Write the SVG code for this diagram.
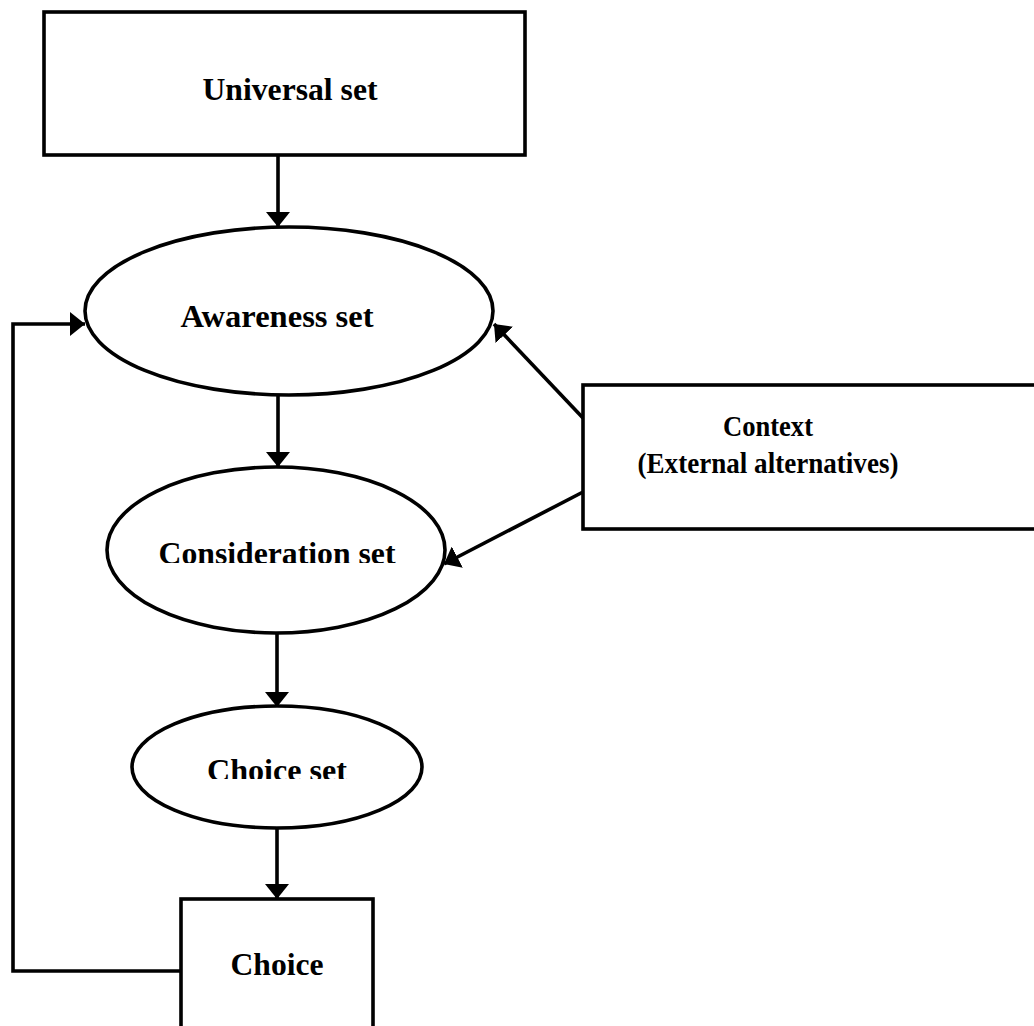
<svg xmlns="http://www.w3.org/2000/svg" width="1034" height="1026" viewBox="0 0 1034 1026">
<style>
.shape{fill:#fff;stroke:#000;stroke-width:3.6}
.lbl{font-family:"Liberation Serif","Times New Roman",serif;font-weight:bold;font-size:32px;fill:#000;text-anchor:middle}
.sm{font-size:30px}
.con{fill:none;stroke:#000;stroke-width:3.6}
</style>
<defs>
<marker id="ah" markerUnits="userSpaceOnUse" markerWidth="16" markerHeight="24" viewBox="0 0 16 24" refX="15" refY="12" orient="auto">
<path d="M0,0 L15,12 L0,24 z" fill="#000"/>
</marker>
<clipPath id="clipCons"><rect x="0" y="500" width="1034" height="63"/></clipPath>
<clipPath id="clipChs"><rect x="0" y="720" width="1034" height="59"/></clipPath>
</defs>
<rect width="1034" height="1026" fill="#fff"/>
<g id="connectors">
<line class="con" x1="278" y1="155" x2="278" y2="227" marker-end="url(#ah)"/>
<line class="con" x1="278" y1="395" x2="278" y2="467" marker-end="url(#ah)"/>
<line class="con" x1="277" y1="633" x2="277" y2="707" marker-end="url(#ah)"/>
<line class="con" x1="277" y1="828" x2="277" y2="899" marker-end="url(#ah)"/>
<line class="con" x1="583" y1="418" x2="494" y2="324" marker-end="url(#ah)"/>
<line class="con" x1="583" y1="492" x2="444" y2="564" marker-end="url(#ah)"/>
<polyline class="con" points="181,971 13,971 13,324 85,324" marker-end="url(#ah)"/>
</g>
<g id="universal">
<rect class="shape" x="44" y="12" width="481" height="143"/>
<text class="lbl" x="290" y="100" textLength="175" lengthAdjust="spacingAndGlyphs">Universal set</text>
</g>
<g id="awareness">
<ellipse class="shape" cx="289" cy="311" rx="204" ry="84"/>
<text class="lbl" x="277" y="327" textLength="193" lengthAdjust="spacingAndGlyphs">Awareness set</text>
</g>
<g id="consideration">
<ellipse class="shape" cx="276" cy="550" rx="169" ry="83"/>
<text class="lbl" x="277" y="564" textLength="237" lengthAdjust="spacingAndGlyphs" clip-path="url(#clipCons)">Consideration set</text>
</g>
<g id="choiceset">
<ellipse class="shape" cx="277" cy="767" rx="145" ry="61"/>
<text class="lbl" x="277" y="781" textLength="140" lengthAdjust="spacingAndGlyphs" clip-path="url(#clipChs)">Choice set</text>
</g>
<g id="choice">
<rect class="shape" x="181" y="899" width="192" height="140"/>
<text class="lbl" x="277" y="975" textLength="93" lengthAdjust="spacingAndGlyphs">Choice</text>
</g>
<g id="context">
<rect class="shape" x="583" y="385" width="460" height="144"/>
<text class="lbl sm" x="768" y="436" textLength="90" lengthAdjust="spacingAndGlyphs">Context</text>
<text class="lbl sm" x="768" y="473" textLength="261" lengthAdjust="spacingAndGlyphs">(External alternatives)</text>
</g>
</svg>
